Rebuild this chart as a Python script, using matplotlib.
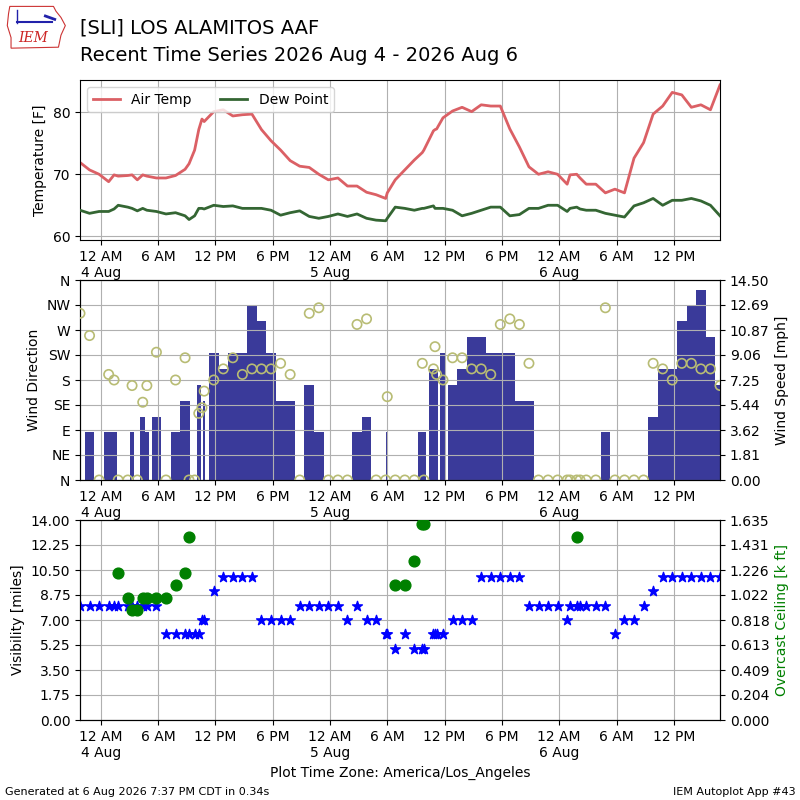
import numpy as np
import pandas as pd
import matplotlib
matplotlib.use("Agg")
import matplotlib.pyplot as plt
import matplotlib.dates as mdates
from matplotlib.ticker import FuncFormatter, FixedLocator
from matplotlib.patches import Polygon

# ---------------- data (local time, America/Los_Angeles) ----------------
obs_time = [
    "2026-08-03 21:50", "2026-08-03 22:50", "2026-08-03 23:50",
    "2026-08-04 00:50", "2026-08-04 01:24", "2026-08-04 01:50", "2026-08-04 02:50",
    "2026-08-04 03:17", "2026-08-04 03:50", "2026-08-04 04:24", "2026-08-04 04:50",
    "2026-08-04 05:50", "2026-08-04 06:50", "2026-08-04 07:50", "2026-08-04 08:50",
    "2026-08-04 09:15", "2026-08-04 09:50", "2026-08-04 10:16", "2026-08-04 10:36",
    "2026-08-04 10:50", "2026-08-04 11:50", "2026-08-04 12:50", "2026-08-04 13:50",
    "2026-08-04 14:50", "2026-08-04 15:50", "2026-08-04 16:50", "2026-08-04 17:50",
    "2026-08-04 18:50", "2026-08-04 19:50", "2026-08-04 20:50", "2026-08-04 21:50",
    "2026-08-04 22:50", "2026-08-04 23:50",
    "2026-08-05 00:50", "2026-08-05 01:50", "2026-08-05 02:50", "2026-08-05 03:50",
    "2026-08-05 04:50", "2026-08-05 05:50", "2026-08-05 06:00", "2026-08-05 06:50",
    "2026-08-05 07:50", "2026-08-05 08:50", "2026-08-05 09:40", "2026-08-05 09:50",
    "2026-08-05 10:50", "2026-08-05 11:00", "2026-08-05 11:10", "2026-08-05 11:50",
    "2026-08-05 12:50", "2026-08-05 13:50", "2026-08-05 14:50", "2026-08-05 15:50",
    "2026-08-05 16:50", "2026-08-05 17:50", "2026-08-05 18:50", "2026-08-05 19:50",
    "2026-08-05 20:50", "2026-08-05 21:50", "2026-08-05 22:50", "2026-08-05 23:50",
    "2026-08-06 00:50", "2026-08-06 01:08", "2026-08-06 01:50", "2026-08-06 02:11",
    "2026-08-06 02:50", "2026-08-06 03:50", "2026-08-06 04:50", "2026-08-06 05:50",
    "2026-08-06 06:50", "2026-08-06 07:50", "2026-08-06 08:50", "2026-08-06 09:50",
    "2026-08-06 10:50", "2026-08-06 11:50", "2026-08-06 12:50", "2026-08-06 13:50",
    "2026-08-06 14:50", "2026-08-06 15:50", "2026-08-06 16:50",
]
tmpf = [
    71.9, 70.7, 70.0,
    68.8, 69.9, 69.7, 69.8, 69.9, 69.1, 69.9, 69.7, 69.4, 69.4, 69.8, 70.8,
    71.7, 73.9, 77.2, 78.9, 78.5, 80.1, 80.4, 79.4, 79.6, 79.7, 77.2, 75.4,
    73.9, 72.2, 71.3, 71.1, 70.0, 69.1,
    69.4, 68.1, 68.1, 67.1, 66.7, 66.1, 67.0, 69.1, 70.7, 72.3, 73.5, 73.9,
    77.0, 77.2, 77.3, 79.1, 80.2, 80.8, 80.1, 81.2, 81.0, 81.0, 77.3, 74.4,
    71.2, 70.0, 70.4, 70.0,
    68.4, 69.9, 70.0, 69.4, 68.4, 68.4, 67.0, 67.6, 67.0, 72.6, 75.1, 79.7,
    81.0, 83.2, 82.8, 80.8, 81.2, 80.4, 84.4,
]
dwpf = [
    64.2, 63.7, 64.0,
    64.0, 64.4, 65.0, 64.7, 64.5, 64.1, 64.5, 64.2, 64.0, 63.6, 63.8, 63.3,
    62.7, 63.3, 64.5, 64.5, 64.4, 65.0, 64.8, 64.9, 64.5, 64.5, 64.5, 64.2,
    63.4, 63.8, 64.1, 63.2, 62.9, 63.2,
    63.6, 63.2, 63.6, 62.9, 62.6, 62.5, 62.9, 64.7, 64.5, 64.2, 64.5, 64.5,
    64.9, 64.5, 64.5, 64.5, 64.2, 63.3, 63.7, 64.2, 64.7, 64.7, 63.3, 63.5,
    64.5, 64.5, 65.0, 65.0,
    64.0, 64.5, 64.7, 64.4, 64.2, 64.2, 63.7, 63.4, 63.1, 64.9, 65.4, 66.1,
    65.0, 65.8, 65.8, 66.1, 65.7, 65.0, 63.3,
]
drct = [
    300, 260, 0,
    190, 180, 0, 0, 170, 0, 140, 170, 230, 0, 180, 220,
    0, 0, 120, 130, 160, 180, 200, 220, 190, 200, 200, 200,
    210, 190, 0, 300, 310, 0,
    0, 0, 280, 290, 0, 0, 150, 0, 0, 0, 210, 0,
    200, 240, 190, 180, 220, 220, 200, 200, 190, 280, 290, 280,
    210, 0, 0, 0,
    0, 0, 0, 0, 0, 0, 310, 0, 0, 0, 0, 210,
    200, 180, 210, 210, 200, 200, 170,
]
sknt = [
    0, 3, 0,
    3, 3, 0, 0, 3, 0, 4, 3, 4, 0, 3, 5,
    0, 0, 6, 0, 5, 8, 7, 8, 8, 11, 10, 8,
    5, 5, 0, 6, 3, 0,
    0, 0, 3, 4, 0, 0, 3, 0, 0, 0, 3, 0,
    7, 7, 7, 8, 6, 7, 9, 9, 8, 8, 8, 5,
    5, 0, 0, 0,
    0, 0, 0, 0, 0, 0, 3, 0, 0, 0, 0, 4,
    7, 7, 10, 11, 12, 9, 6,
]
vsby = [
    8, 8, 8,
    8, 8, 8, 8, 8, 8, 8, 8, 8, 6, 6, 6,
    6, 6, 6, 7, 7, 9, 10, 10, 10, 10, 7, 7,
    7, 7, 8, 8, 8, 8,
    8, 7, 8, 7, 7, 6, 6, 5, 6, 5, 5, 5,
    6, 6, 6, 6, 7, 7, 7, 10, 10, 10, 10, 10,
    8, 8, 8, 8,
    7, 8, 8, 8, 8, 8, 8, 6, 7, 7, 8, 9,
    10, 10, 10, 10, 10, 10, 10,
]
nan = float("nan")
ceil_kft = [
    nan, nan, nan,
    nan, nan, 1.2, 1.0, 0.9, 0.9, 1.0, 1.0, 1.0, 1.0, 1.1, 1.2,
    1.5, nan, nan, nan, nan, nan, nan, nan, nan, nan, nan, nan,
    nan, nan, nan, nan, nan, nan,
    nan, nan, nan, nan, nan, nan, nan, 1.1, 1.1, 1.3, 1.6, 1.6,
    nan, nan, nan, nan, nan, nan, nan, nan, nan, nan, nan, nan,
    nan, nan, nan, nan,
    nan, nan, 1.5, nan, nan, nan, nan, nan, nan, nan, nan, nan,
    nan, nan, nan, nan, nan, nan, nan,
]
dir_labels = ["N", "NE", "E", "SE", "S", "SW", "W", "NW", "N"]

# ---------------- derived ----------------
valid = pd.to_datetime(obs_time)
xnum = mdates.date2num(valid.to_pydatetime())
speed_mph = np.array(sknt, dtype=float) * 1.15078
bar_w = np.diff(xnum, prepend=xnum[0])

TEMP_C = "#db6065"
DEW_C = "#346633"
BAR_C = "#3a3a9a"
DIR_C = "#b8bc74"


def fmt_time(val, pos=None):
    dt = mdates.num2date(val)
    lab = dt.strftime("%I %p").lstrip("0")
    if dt.hour == 0:
        lab += "\n%d %s" % (dt.day, dt.strftime("%b"))
    return lab


def style_x(ax):
    ax.set_xlim(xnum[0], xnum[-1])
    ax.xaxis.set_major_locator(mdates.HourLocator(byhour=[0, 6, 12, 18]))
    ax.xaxis.set_major_formatter(FuncFormatter(fmt_time))


fig = plt.figure(figsize=(8, 8), dpi=100)

# title
fig.text(0.1, 0.977, "[SLI] LOS ALAMITOS AAF", fontsize=14, va="top", ha="left")
fig.text(0.1, 0.942, "Recent Time Series 2026 Aug 4 - 2026 Aug 6", fontsize=14,
         va="top", ha="left")

# simple logo
lax = fig.add_axes([0.006, 0.935, 0.078, 0.06])
lax.set_xlim(0, 1)
lax.set_ylim(0, 1)
lax.axis("off")
outline = [(0.08, 0.95), (0.78, 0.95), (0.82, 0.85), (0.9, 0.72), (0.97, 0.55),
           (0.9, 0.35), (0.86, 0.1), (0.1, 0.08), (0.1, 0.3), (0.04, 0.55), (0.06, 0.8)]
lax.add_patch(Polygon(outline, closed=True, fill=False, edgecolor="#cc3333", lw=0.8))
lax.text(0.45, 0.3, "IEM", color="#cc2222", fontsize=10, style="italic",
         family="DejaVu Serif", ha="center", va="center")
lax.plot([0.2, 0.75], [0.62, 0.62], color="#2222aa", lw=1.5)
lax.plot([0.2, 0.2], [0.6, 0.88], color="#2222aa", lw=1)
lax.plot([0.65, 0.8], [0.75, 0.68], color="#2222aa", lw=2)

# ---- temperature panel ----
ax1 = fig.add_axes([0.1, 0.7, 0.8, 0.2])
ax1.plot(xnum, tmpf, color=TEMP_C, lw=2, label="Air Temp", zorder=2)
ax1.plot(xnum, dwpf, color=DEW_C, lw=2, label="Dew Point", zorder=3)
ax1.set_ylim(59.4, 85.2)
ax1.set_ylabel("Temperature [F]")
ax1.grid(True)
ax1.legend(loc="upper left", ncol=2)
style_x(ax1)

# ---- wind panel ----
ax2 = fig.add_axes([0.1, 0.4, 0.8, 0.25])
ax2b = ax2.twinx()
ax2b.bar(xnum, speed_mph, width=bar_w, align="center", color=BAR_C,
         linewidth=0, antialiased=False)
smax = speed_mph.max() * 1.05
ax2b.set_ylim(0, smax)
ax2b.yaxis.set_major_locator(FixedLocator(np.linspace(0, smax, 9)))
ax2b.yaxis.set_major_formatter(FuncFormatter(lambda v, p: "%.2f" % v))
ax2b.set_ylabel("Wind Speed [mph]")
ax2.scatter(xnum, drct, facecolor="none", edgecolor=DIR_C, s=45, lw=1.2, zorder=4)
ax2.set_ylim(0, 360)
ax2.set_yticks(range(0, 361, 45))
ax2.set_yticklabels(dir_labels)
ax2.set_ylabel("Wind Direction")
ax2.set_zorder(ax2b.get_zorder() + 1)
ax2.patch.set_visible(False)
ax2.grid(True)
style_x(ax2)
style_x(ax2b)

# ---- visibility / ceiling panel ----
ax3 = fig.add_axes([0.1, 0.1, 0.8, 0.25])
ax3.scatter(xnum, vsby, marker="*", color="b", s=55, zorder=3)
ax3.set_ylim(0, 14)
ax3.yaxis.set_major_locator(FixedLocator(np.linspace(0, 14, 9)))
ax3.yaxis.set_major_formatter(FuncFormatter(lambda v, p: "%.2f" % v))
ax3.set_ylabel("Visibility [miles]")
ax3.grid(True)
ax3b = ax3.twinx()
ax3b.scatter(xnum, ceil_kft, color="g", s=60, zorder=4)
ax3b.set_ylim(0, 1.635)
ax3b.yaxis.set_major_locator(FixedLocator(np.linspace(0, 1.635, 9)))
ax3b.yaxis.set_major_formatter(FuncFormatter(lambda v, p: "%.3f" % v))
ax3b.set_ylabel("Overcast Ceiling [k ft]", color="g")
style_x(ax3)
style_x(ax3b)
ax3.set_xlabel("Plot Time Zone: America/Los_Angeles")

fig.text(0.006, 0.004, "Generated at 6 Aug 2026 7:37 PM CDT in 0.34s", fontsize=8,
         ha="left", va="bottom")
fig.text(0.994, 0.004, "IEM Autoplot App #43", fontsize=8, ha="right", va="bottom")

fig.savefig("out.png", dpi=100)
